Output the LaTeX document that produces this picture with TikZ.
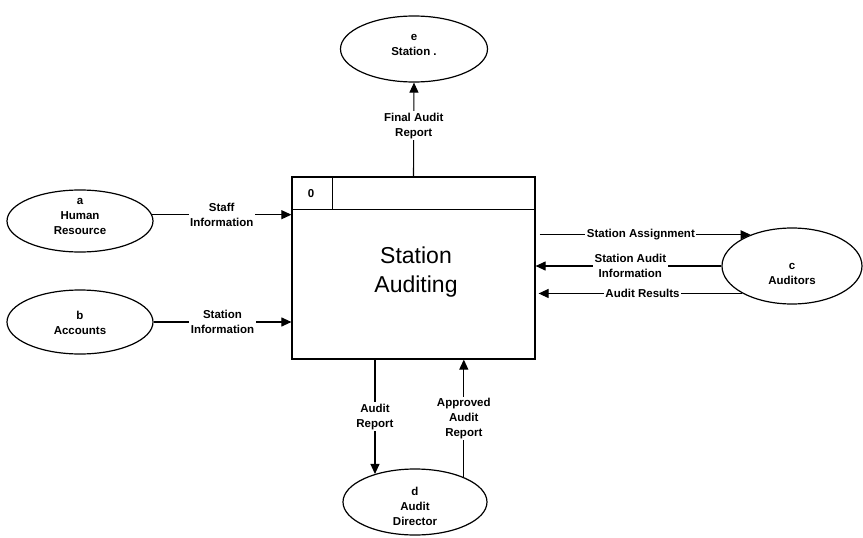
\documentclass[tikz,border=0pt]{standalone}
\usepackage{fontspec}
\setmainfont{Liberation Sans}
\usetikzlibrary{shapes.geometric,arrows.meta}
\begin{document}
\begin{tikzpicture}[x=1pt,y=-1pt]
\tikzset{
 ent/.style={ellipse, draw, line width=1.2pt, minimum width=146pt, minimum height=62pt, inner sep=0pt},
 lbl/.style={font=\bfseries\fontsize{11.5}{15}\selectfont, align=center, inner sep=1.5pt},
 flow/.style={line width=1.1pt, -{Triangle[length=10pt,width=9pt]}},
 flowlbl/.style={lbl, fill=white},
}
\useasboundingbox (0,0) rectangle (863,538);
% external entities
\node[ent] (a) at (80,221) {};
\node[lbl] (at) at (80,216) {a\\Human\\Resource};
\node[ent, minimum height=64pt] (b) at (80,322) {};
\node[lbl] (bt) at (80,323) {b\\Accounts};
\node[ent, minimum width=147pt, minimum height=66pt] (e) at (414,49) {};
\node[lbl] (et) at (414,45) {e\\Station .};
\node[ent, minimum width=140pt, minimum height=76pt] (c) at (792,266) {};
\node[lbl] (ct) at (792,274) {c\\Auditors};
\node[ent, minimum width=144pt, minimum height=66pt] (d) at (415,502) {};
\node[lbl] (dt) at (415,506) {d\\Audit\\Director};
% process box
\node[draw, line width=1.2pt, minimum width=243pt, minimum height=182pt, inner sep=0pt] (box) at (413.5,268) {};
\draw[line width=1.1pt] ([yshift=-33pt]box.north west) -- ([yshift=-33pt]box.north east);
\draw[line width=1.1pt] ([xshift=41pt]box.north west) -- ([xshift=41pt,yshift=-33pt]box.north west);
\node[lbl] (zero) at (311,194) {0};
\node[font=\fontsize{23}{29}\selectfont, align=center] (title) at (416,272) {Station\\Auditing};
% flows
\draw[flow] (a.5) -- (box.west |- a.5) node[flowlbl, midway] {Staff\\Information};
\draw[flow] (b.east) -- (box.west |- b.east) node[flowlbl, midway] {Station\\Information};
\draw[flow] (box.north) -- (e.south) node[flowlbl, pos=0.54] {Final Audit\\Report};
\draw[flow] ([xshift=4pt]box.east |- c.143) -- (c.143) node[flowlbl, pos=0.48] {Station Assignment};
\draw[flow] (c.west) -- (box.east |- c.west) node[flowlbl, pos=0.49] {Station Audit\\Information};
\draw[flow] (c.209) -- ([xshift=3pt]box.east |- c.209) node[flowlbl, pos=0.49] {Audit Results};
\draw[flow] (box.south -| d.145) -- (d.145) node[flowlbl, pos=0.5] {Audit\\Report};
\draw[flow] (d.27) -- (box.south -| d.27) node[flowlbl, pos=0.5] {Approved\\Audit\\Report};
\end{tikzpicture}
\end{document}
